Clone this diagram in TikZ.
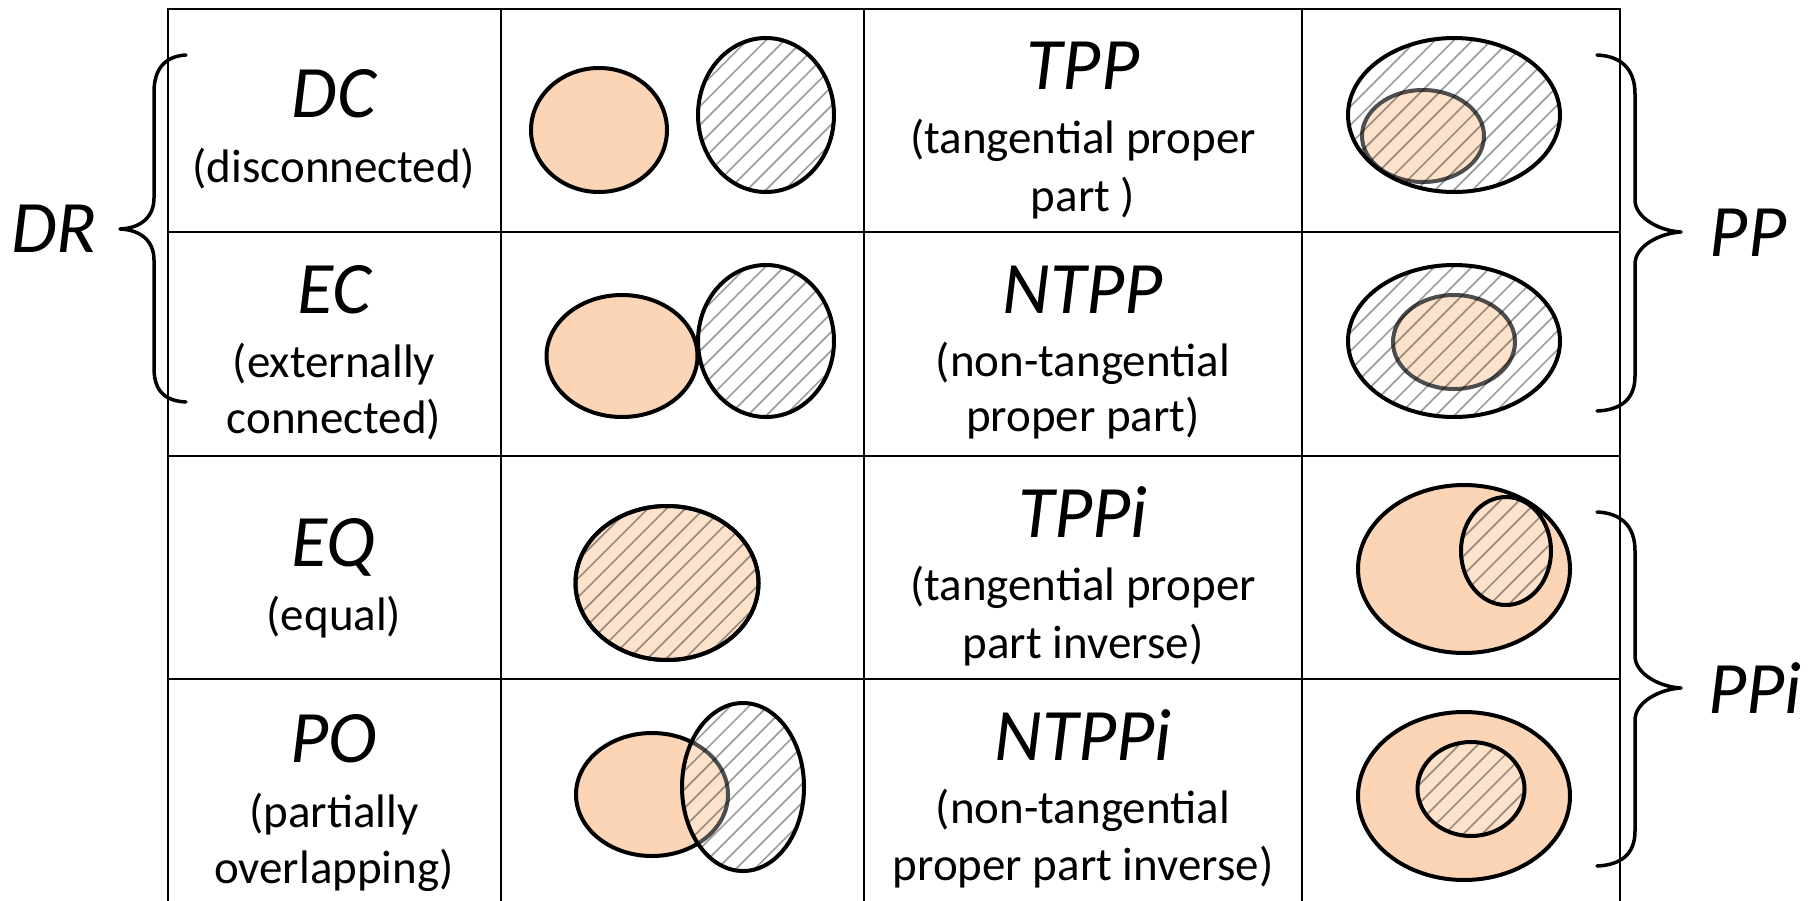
\documentclass[tikz,border=0pt]{standalone}
\usepackage{fontspec}
\setmainfont{Carlito}

\definecolor{peach}{HTML}{FBD5B5}

\tikzset{
  gridline/.style={line width=2.5pt, draw=black},
  outline/.style={line width=4pt, draw=black},
  hatchline/.style={line width=1.7pt, draw=black, draw opacity=0.38},
  ttl/.style={anchor=base, inner sep=0pt, font=\fontsize{74}{80}\selectfont\itshape},
  sub/.style={anchor=base, inner sep=0pt, font=\fontsize{47}{56}\selectfont},
  bracestroke/.style={line width=3.5pt, draw=black, line cap=round, line join=round},
}

% solid (peach) region: centre, x radius, y radius
\newcommand\solidregion[3]{%
  \path[fill=peach, outline] #1 ellipse [x radius=#2pt, y radius=#3pt];}
% hatched region: translucent veil, diagonal hatching, black outline
\newcommand\hatchregion[3]{%
  \fill[white, fill opacity=0.3] #1 ellipse [x radius=#2pt, y radius=#3pt];
  \begin{scope}
    \clip #1 ellipse [x radius=#2pt, y radius=#3pt];
    \foreach \k in {-12,...,12}
      \draw[hatchline, shift={#1}] (\k*18.7-300,300) -- ++(600,-600);
  \end{scope}
  \path[outline] #1 ellipse [x radius=#2pt, y radius=#3pt];}

\begin{document}
\begin{tikzpicture}[x=1pt, y=-1pt]
\useasboundingbox (0,0) rectangle (1818,900);
\fill[white] (0,0) rectangle (1818,900);

% table
\draw[gridline] (168,9) rectangle (1620,904);
\foreach \xx in {501,864,1302} \draw[gridline] (\xx,9) -- (\xx,904);
\foreach \yy in {232,456,679} \draw[gridline] (168,\yy) -- (1620,\yy);

% names of the relations
\node[ttl] (dc)  at (334,117) {DC};
\node[sub] (dc1) at (334,182) {(disconnected)};
\node[ttl] (ec)  at (334,313) {EC};
\node[sub] (ec1) at (334,377) {(externally};
\node[sub] (ec2) at (334,433) {connected)};
\node[ttl] (eq)  at (334,566) {EQ};
\node[sub] (eq1) at (334,630) {(equal)};
\node[ttl] (po)  at (334,762) {PO};
\node[sub] (po1) at (334,827) {(partially};
\node[sub] (po2) at (334,883) {overlapping)};

\node[ttl] (tpp)  at (1083,89)  {TPP};
\node[sub] (tpp1) at (1083,153) {(tangential proper};
\node[sub] (tpp2) at (1083,211) {part )};
\node[ttl] (ntpp)  at (1083,313) {NTPP};
\node[sub] (ntpp1) at (1083,376) {(non-tangential};
\node[sub] (ntpp2) at (1083,431) {proper part)};
\node[ttl] (tppi)  at (1083,537) {TPPi};
\node[sub] (tppi1) at (1083,600) {(tangential proper};
\node[sub] (tppi2) at (1083,658) {part inverse)};
\node[ttl] (ntppi)  at (1083,760) {NTPPi};
\node[sub] (ntppi1) at (1083,823) {(non-tangential};
\node[sub] (ntppi2) at (1083,880) {proper part inverse)};

% region pictures
% DC
\solidregion{(599,130)}{68}{62}
\hatchregion{(766,115)}{68}{77}
% EC
\solidregion{(622,356)}{75.5}{61}
\hatchregion{(766,341)}{68}{76}
% EQ
\solidregion{(667,583)}{91.5}{77}
\hatchregion{(667,583)}{91.5}{77}
% PO
\solidregion{(652,794.5)}{76}{61.5}
\hatchregion{(743,787)}{61}{84}
% TPP
\solidregion{(1423,136)}{61}{46}
\hatchregion{(1454,115)}{106}{77}
% NTPP
\solidregion{(1454,342)}{61}{47}
\hatchregion{(1454,341)}{106}{76}
% TPPi
\solidregion{(1464,569)}{106}{84}
\hatchregion{(1506,551)}{45}{54}
% NTPPi
\solidregion{(1464,796)}{106}{84}
\hatchregion{(1471,789)}{53.5}{47}

% group braces
\coordinate (drtop) at (186,55);
\coordinate (drtip) at (120,229);
\coordinate (drbot) at (186,402);
\draw[bracestroke] (drtop) .. controls (166,56) and (154,68) .. (154,92)
  -- (154,198) .. controls (154,216) and (142,228) .. (drtip)
  .. controls (142,230) and (154,242) .. (154,260)
  -- (154,368) .. controls (154,392) and (166,401) .. (drbot);
\node[ttl] (dr) at (54,252) {DR};

\coordinate (pptop) at (1597,55);
\coordinate (pptip) at (1681,232);
\coordinate (ppbot) at (1597,411);
\draw[bracestroke] (pptop) .. controls (1620,56) and (1635,68) .. (1635,94)
  -- (1635,200) .. controls (1635,218) and (1660,231) .. (pptip)
  .. controls (1660,233) and (1635,246) .. (1635,264)
  -- (1635,376) .. controls (1635,400) and (1620,410) .. (ppbot);
\node[ttl] (pp) at (1748,256) {PP};

\coordinate (ppitop) at (1597,512);
\coordinate (ppitip) at (1681,688);
\coordinate (ppibot) at (1597,866);
\draw[bracestroke] (ppitop) .. controls (1620,513) and (1635,525) .. (1635,551)
  -- (1635,656) .. controls (1635,674) and (1660,687) .. (ppitip)
  .. controls (1660,689) and (1635,702) .. (1635,720)
  -- (1635,831) .. controls (1635,855) and (1620,865) .. (ppibot);
\node[ttl] (ppi) at (1755,713) {PPi};
\end{tikzpicture}
\end{document}
